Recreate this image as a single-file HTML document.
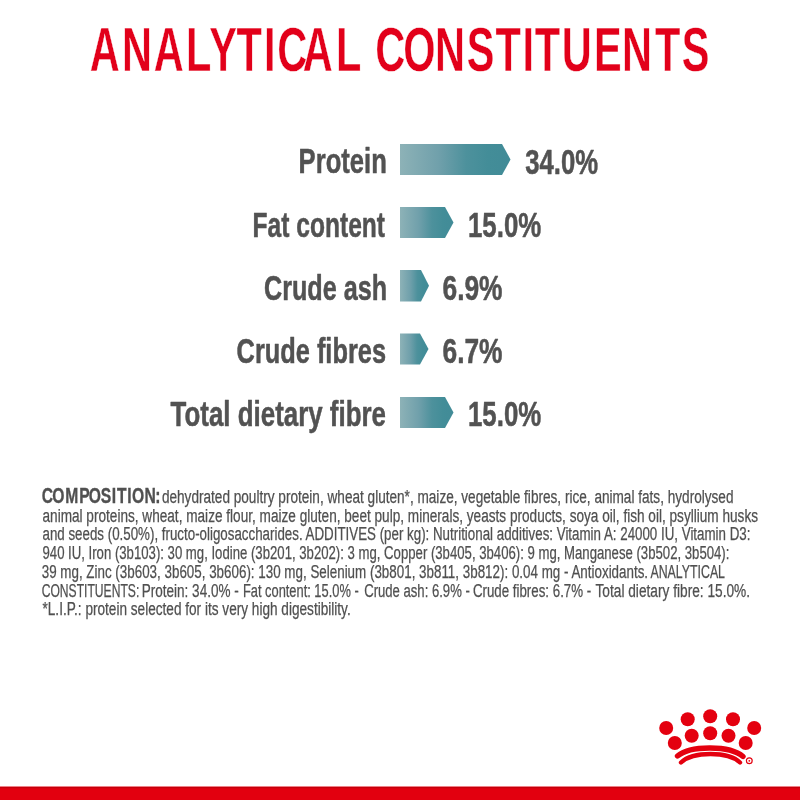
<!DOCTYPE html>
<html lang="en">
<head>
<meta charset="utf-8">
<title>Analytical constituents</title>
<style>
html,body{margin:0;padding:0;background:#fff;}
body{width:800px;height:800px;overflow:hidden;position:relative;}
svg{display:block;will-change:transform;}
text{font-family:"Liberation Sans",Arial,sans-serif;}
.t{fill:#e2001a;stroke:#fff;stroke-width:0.45;font-weight:700;}
.lab{fill:#525252;stroke:#525252;stroke-width:0.55;stroke-linejoin:round;font-weight:700;}
.cb{font-weight:700;stroke-width:0.35;}
.p{fill:#505050;stroke:#505050;stroke-width:0.25;font-size:17.6px;}
</style>
</head>
<body>
<svg width="800" height="800" viewBox="0 0 800 800">
<defs>
<linearGradient id="g1" x1="0" x2="1" y1="0" y2="0">
<stop offset="0" stop-color="#8db2b7"/>
<stop offset="0.35" stop-color="#70a0ab"/>
<stop offset="0.6" stop-color="#4d919c"/>
<stop offset="0.8" stop-color="#438d98"/>
<stop offset="1" stop-color="#418b97"/>
</linearGradient>
</defs>
<rect width="800" height="800" fill="#fff"/>

<!-- title -->
<text class="t" transform="scale(0.66,1)" x="136.09 184.96 233.06 281.93 316.88 358.16 400.11 419.92 458.81 509.20 547.63 568.41 610.83 659.20 707.05 750.58 791.78 810.43 851.30 900.11 942.54 992.25 1032.81" y="71.1" font-size="62.9">ANALYTICAL CONSTITUENTS</text>

<!-- bars -->
<polygon points="400,144 502,144 510.5,159.5 502,175 400,175" fill="url(#g1)"/>
<polygon points="400,207 445,207 453.5,222.5 445,238 400,238" fill="url(#g1)"/>
<polygon points="400,270 421,270 429,285.7 421,301.5 400,301.5" fill="url(#g1)"/>
<polygon points="400,333.5 420,333.5 428.5,349 420,364.5 400,364.5" fill="url(#g1)"/>
<polygon points="400,397 445,397 453.5,412.5 445,428 400,428" fill="url(#g1)"/>

<!-- labels -->
<g class="lab" font-size="35.6">
<text x="298.6" y="173" textLength="88.2" lengthAdjust="spacingAndGlyphs">Protein</text>
<text x="252.6" y="236.5" textLength="132.4" lengthAdjust="spacingAndGlyphs">Fat content</text>
<text x="264" y="300" textLength="123" lengthAdjust="spacingAndGlyphs">Crude ash</text>
<text x="236.6" y="363.3" textLength="149.4" lengthAdjust="spacingAndGlyphs">Crude fibres</text>
<text x="170.6" y="426" textLength="215.4" lengthAdjust="spacingAndGlyphs">Total dietary fibre</text>
</g>
<g class="lab" font-size="35.6">
<text x="525.2" y="173.5" textLength="72.8" lengthAdjust="spacingAndGlyphs">34.0%</text>
<text x="468" y="236.5" textLength="73.2" lengthAdjust="spacingAndGlyphs">15.0%</text>
<text x="442.5" y="299.5" textLength="60" lengthAdjust="spacingAndGlyphs">6.9%</text>
<text x="442.5" y="363" textLength="60" lengthAdjust="spacingAndGlyphs">6.7%</text>
<text x="468" y="426" textLength="73.2" lengthAdjust="spacingAndGlyphs">15.0%</text>
</g>

<!-- composition paragraph -->
<g class="p">
<text class="cb" transform="scale(0.7,1)" x="59.65 74.65 93.07 113.22 126.94 143.93 159.79 167.03 181.79 188.51 206.36 221.85" y="503" font-size="22.4">COMPOSITION:</text>
<text x="161.9" y="503" textLength="571.6" lengthAdjust="spacingAndGlyphs">dehydrated poultry protein, wheat gluten*, maize, vegetable fibres, rice, animal fats, hydrolysed</text>
<text x="42.5" y="521.8" textLength="715.5" lengthAdjust="spacingAndGlyphs">animal proteins, wheat, maize flour, maize gluten, beet pulp, minerals, yeasts products, soya oil, fish oil, psyllium husks</text>
<text x="42.5" y="540.4" textLength="707.9" lengthAdjust="spacingAndGlyphs">and seeds (0.50%), fructo-oligosaccharides. ADDITIVES (per kg): Nutritional additives: Vitamin A: 24000 IU, Vitamin D3:</text>
<text x="42.5" y="559.1" textLength="686.9" lengthAdjust="spacingAndGlyphs">940 IU, Iron (3b103): 30 mg, Iodine (3b201, 3b202): 3 mg, Copper (3b405, 3b406): 9 mg, Manganese (3b502, 3b504):</text>
<text x="41.7" y="577.9" textLength="606.4" lengthAdjust="spacingAndGlyphs">39 mg, Zinc (3b603, 3b605, 3b606): 130 mg, Selenium (3b801, 3b811, 3b812): 0.04 mg - Antioxidants.</text>
<text x="650.4" y="577.9" textLength="74.6" lengthAdjust="spacingAndGlyphs">ANALYTICAL</text>
<text x="41.7" y="596.6" textLength="97.6" lengthAdjust="spacingAndGlyphs">CONSTITUENTS:</text>
<text x="141.7" y="596.6" textLength="97.1" lengthAdjust="spacingAndGlyphs">Protein: 34.0% -</text>
<text x="242.9" y="596.6" textLength="115.8" lengthAdjust="spacingAndGlyphs">Fat content: 15.0% -</text>
<text x="364.2" y="596.6" textLength="105.6" lengthAdjust="spacingAndGlyphs">Crude ash: 6.9% -</text>
<text x="472.9" y="596.6" textLength="118.3" lengthAdjust="spacingAndGlyphs">Crude fibres: 6.7% -</text>
<text x="595.5" y="596.6" textLength="154.6" lengthAdjust="spacingAndGlyphs">Total dietary fibre: 15.0%.</text>
<text x="42.5" y="615.3" textLength="308.2" lengthAdjust="spacingAndGlyphs">*L.I.P.: protein selected for its very high digestibility.</text>
</g>

<!-- logo -->
<g fill="#e4000f">
<circle cx="666.2" cy="728" r="7"/>
<circle cx="687.7" cy="719.3" r="7"/>
<circle cx="710.2" cy="716.3" r="7"/>
<circle cx="733" cy="719.3" r="7"/>
<circle cx="754.2" cy="728" r="7"/>
<circle cx="674.8" cy="743" r="7"/>
<circle cx="691.7" cy="735.8" r="7"/>
<circle cx="710.2" cy="733.2" r="7"/>
<circle cx="728.5" cy="735.8" r="7"/>
<circle cx="745.7" cy="743" r="7"/>
</g>
<g fill="none" stroke="#e4000f" stroke-linecap="round">
<path d="M677.5,756 C690,745.2 730,745.2 743,756.5" stroke-width="5.4"/>
<path d="M681,762.5 C693,751.2 728,751.2 740,762.5" stroke-width="4.4"/>
</g>
<circle cx="749.3" cy="760.8" r="2.9" fill="none" stroke="#e4000f" stroke-width="1.2"/>
<circle cx="749.3" cy="760.8" r="0.9" fill="#e4000f"/>

<!-- bottom band -->
<rect x="0" y="786.5" width="800" height="13.5" fill="#e2000f"/>
<rect x="0" y="787" width="800" height="1.2" fill="#c4000b"/>
</svg>
</body>
</html>
